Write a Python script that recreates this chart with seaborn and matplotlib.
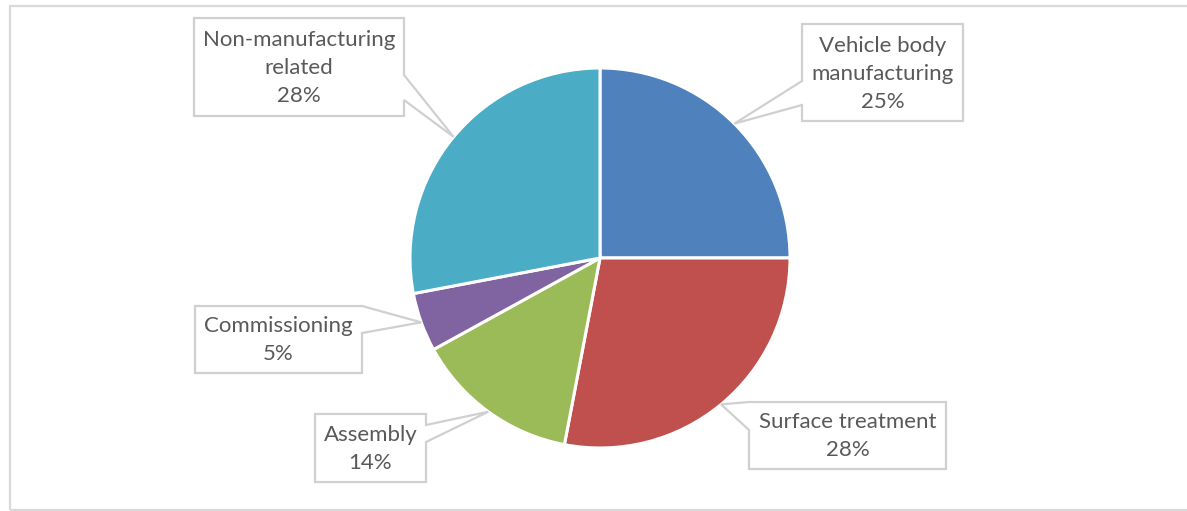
import numpy as np
import matplotlib
matplotlib.use("Agg")
import matplotlib.pyplot as plt
import seaborn as sns
from matplotlib.patches import Polygon, Rectangle

# Share of work by production stage (percent)
categories = ["Vehicle body\nmanufacturing", "Surface treatment", "Assembly",
              "Commissioning", "Non-manufacturing\nrelated"]
shares = [25, 28, 14, 5, 28]
colors = ["#4F81BD", "#C0504D", "#9BBB59", "#8064A2", "#4BACC6"]

# Callout boxes in pixel space (y measured downward):
# (left, top, right, bottom, side the pointer leaves from, pointer base start, end)
callouts = [
    (802, 24, 963, 121, "left", 81, 105),
    (749, 402, 946, 469, "left", 402, 430),
    (315, 414, 426, 482, "right", 425, 442),
    (195, 306, 362, 373, "right", 306, 333),
    (194, 18, 404, 116, "right", 75, 100),
]

W, H = 1187, 511
CX, CY, R = 600, 258, 190
TEXT = "#595959"
LINE = "#D0D0D0"

sns.set_theme(style="white")
plt.rcParams["font.family"] = ["Lato", "DejaVu Sans"]

fig = plt.figure(figsize=(W / 100, H / 100), dpi=100)
ax = fig.add_axes([0, 0, 1, 1])


def Y(y):
    return H - y


ax.pie(shares, colors=colors, startangle=90, counterclock=False,
       center=(CX, Y(CY)), radius=R, frame=True,
       wedgeprops=dict(edgecolor="white", linewidth=2.2))

ax.set_xlim(0, W)
ax.set_ylim(0, H)
ax.set_aspect("equal", adjustable="box")
ax.axis("off")

# Outer chart border (right side runs past the canvas edge)
ax.add_patch(Rectangle((10, Y(510)), 1200, 504, fill=False,
                       edgecolor="#D9D9D9", linewidth=1.6, zorder=0))

total = float(sum(shares))
cum = np.cumsum([0] + shares[:-1])
for i, (label, v) in enumerate(zip(categories, shares)):
    mid = (cum[i] + v / 2) / total * 2 * np.pi
    tip = (CX + R * np.sin(mid), CY - R * np.cos(mid))
    x0, y0, x1, y1, side, ba, bb = callouts[i]
    if side == "left":
        pts = [(x0, y0), (x1, y0), (x1, y1), (x0, y1), (x0, bb), tip, (x0, ba)]
    else:
        pts = [(x0, y0), (x1, y0), (x1, ba), tip, (x1, bb), (x1, y1), (x0, y1)]
    ax.add_patch(Polygon([(px, Y(py)) for px, py in pts], closed=True,
                         facecolor="white", edgecolor=LINE, linewidth=1.6,
                         joinstyle="miter", zorder=5))
    ax.text((x0 + x1) / 2, Y((y0 + y1) / 2 + 1), f"{label}\n{v / total * 100:.0f}%",
            ha="center", va="center", color=TEXT, fontsize=16,
            linespacing=1.5, zorder=6)

fig.savefig("out.png", dpi=100, facecolor="white")
